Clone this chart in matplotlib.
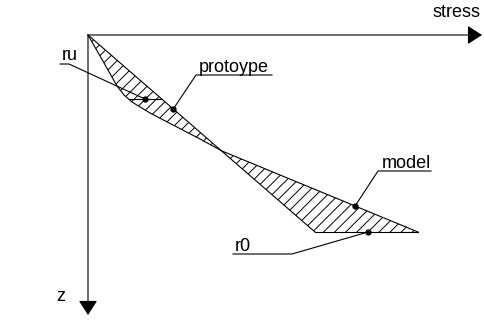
import numpy as np
import matplotlib
matplotlib.use("Agg")
import matplotlib.pyplot as plt

plt.rcParams['font.family'] = ['Liberation Sans', 'DejaVu Sans']
plt.rcParams['hatch.linewidth'] = 0.7

# Prototype stress profile (linear with depth)
proto_stress = [0, 227]
proto_z = [0, 197]

# Model stress profile (non-linear with depth)
model_stress = [0, 16, 29, 36, 44, 62, 87, 112, 134, 330]
model_z = [0, 28, 51, 60, 67, 78, 91, 104, 116, 197]

# Marked depths
z_ru = 64      # depth of ru line
z_proto_mark = 74
z_model_mark = 171
z_r0 = 197
r0_stress_mark = 280

labels = {"stress": "stress", "z": "z", "proto": "protoype", "model": "model",
          "ru": "ru", "r0": "r0"}

fig = plt.figure(figsize=(4.85, 3.2), dpi=100)
ax = fig.add_axes([0, 0, 1, 1])
ax.set_xlim(-88, 397)
ax.set_ylim(285, -35)
ax.axis('off')

lw = 0.8
fs = 13

# hatched area between curves
poly_x = list(proto_stress) + list(model_stress[::-1])
poly_z = list(proto_z) + list(model_z[::-1])
ax.fill(poly_x, poly_z, facecolor='none', edgecolor='k', hatch='///', linewidth=0)

ax.plot(proto_stress, proto_z, color='k', lw=lw)
ax.plot(model_stress, model_z, color='k', lw=lw)
ax.plot([proto_stress[-1], model_stress[-1]], [z_r0, z_r0], color='k', lw=lw)

# ru horizontal line between model and prototype
x_ru_model = np.interp(z_ru, model_z, model_stress)
x_ru_proto = np.interp(z_ru, proto_z, proto_stress)
ax.plot([x_ru_model, x_ru_proto], [z_ru, z_ru], color='k', lw=lw)

# axes arrows
arrow = dict(arrowstyle='-|>,head_length=0.9,head_width=0.58', color='k', lw=lw,
             shrinkA=0, shrinkB=0, mutation_scale=10)
ax.annotate('', xy=(394, 0), xytext=(0, 0), arrowprops=arrow)
ax.annotate('', xy=(0, 280), xytext=(0, 0), arrowprops=arrow)
ax.text(345, -18, labels["stress"], fontsize=fs, va='baseline', ha='left')
ax.text(-32, 266, labels["z"], fontsize=fs, va='baseline', ha='left')

# marker dots
x_ru_dot = 57
x_proto_dot = np.interp(z_proto_mark, proto_z, proto_stress)
x_model_dot = np.interp(z_model_mark, model_z, model_stress)
ax.plot([x_ru_dot, x_proto_dot, x_model_dot, r0_stress_mark],
        [z_ru, z_proto_mark, z_model_mark, z_r0], 'o', color='k', ms=3.5)

# leader lines with underlined labels
ax.plot([-28, -19, x_ru_dot], [29, 29, z_ru], color='k', lw=lw)
ax.text(-26, 25, labels["ru"], fontsize=fs, va='baseline', ha='left')

ax.plot([184, 108, x_proto_dot], [40, 40, z_proto_mark], color='k', lw=lw)
ax.text(111, 37, labels["proto"], fontsize=fs, va='baseline', ha='left')

ax.plot([343, 290, x_model_dot], [136, 136, z_model_mark], color='k', lw=lw)
ax.text(294, 133, labels["model"], fontsize=fs, va='baseline', ha='left')

ax.plot([145, 204, r0_stress_mark], [219, 219, z_r0], color='k', lw=lw)
ax.text(147, 216, labels["r0"], fontsize=fs, va='baseline', ha='left')

fig.savefig('out.png', dpi=100)
